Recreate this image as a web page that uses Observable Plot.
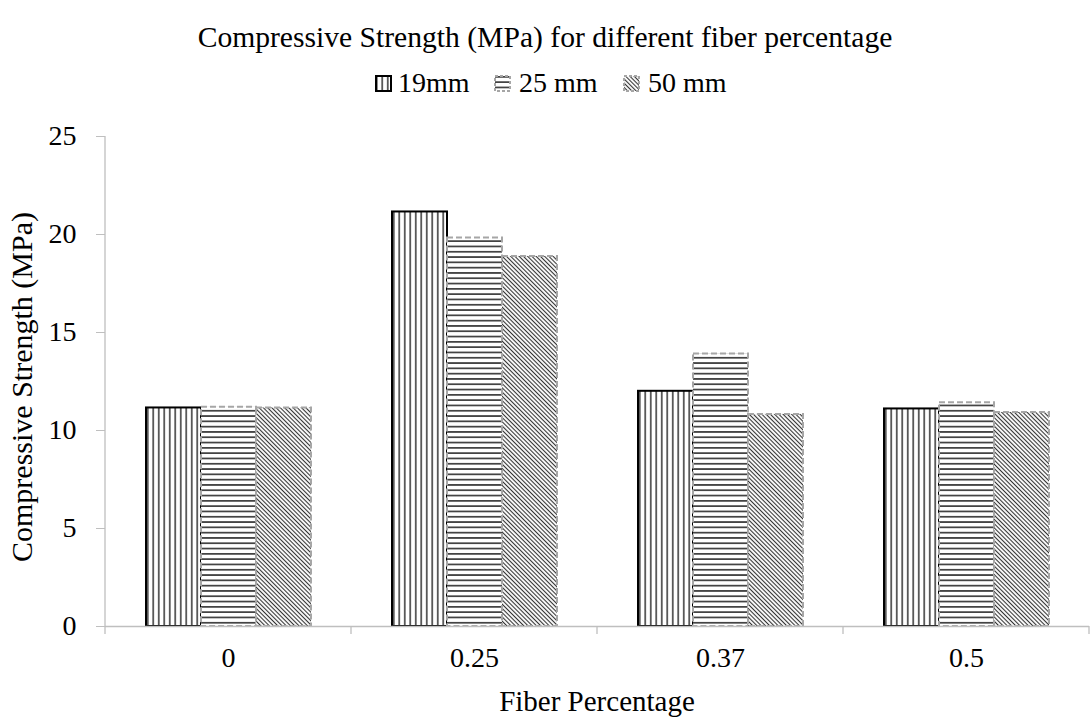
<!DOCTYPE html>
<html><head><meta charset="utf-8">
<script src="https://cdn.jsdelivr.net/npm/d3@7"></script>
<script src="https://cdn.jsdelivr.net/npm/@observablehq/plot@0.6"></script>
<style>body{margin:0;background:#fff;} svg{display:block}</style>
</head><body><div id="chart"></div>
<script>
// ---- data ----
const fibers = ["0", "0.25", "0.37", "0.5"];
const sizes = ["19mm", "25 mm", "50 mm"];
const strength19 = [11.15, 21.15, 12.0, 11.1];
const strength25 = [11.18, 19.82, 13.9, 11.42];
const strength50 = [11.15, 18.88, 10.82, 10.92];
const yTicks = [0, 5, 10, 15, 20, 25];
const title = "Compressive Strength (MPa) for different fiber percentage";
const xTitle = "Fiber Percentage";
const yTitle = "Compressive Strength (MPa)";

const seriesValues = [strength19, strength25, strength50];
const rows = fibers.flatMap((f, i) => sizes.map((s, j) => ({fiber: f, size: s, value: seriesValues[j][i]})));
const patternIds = ["p19", "p25", "p50"];
const strokes = ["#000", "#a6a6a6", "#a6a6a6"];
const dashes = [undefined, "6,3", "6,3"];
const FONT = "'Liberation Serif', 'Times New Roman', serif";

const chart = Plot.plot({
  width: 1090, height: 717,
  marginTop: 136, marginBottom: 91, marginLeft: 103, marginRight: 0,
  style: {fontFamily: FONT, fontSize: "28px", color: "#000", background: "#fff"},
  fx: {domain: fibers, padding: 0, axis: null},
  x: {domain: sizes, paddingInner: 0, paddingOuter: 0.723, axis: null},
  y: {domain: [0, 25], axis: null},
  marks: [
    ...sizes.map((s, j) => Plot.barY(rows.filter(d => d.size === s), {
      fx: "fiber", x: "size", y: "value",
      fill: `url(#${patternIds[j]})`,
      stroke: strokes[j], strokeWidth: 2,
      ...(dashes[j] ? {strokeDasharray: dashes[j]} : {})
    })),
    Plot.ruleY([0], {stroke: "#bfbfbf", strokeWidth: 1.3}),
    Plot.axisY({ticks: yTicks, tickSize: 9, tickPadding: 20, stroke: "#bfbfbf", label: null, tickFormat: d => String(d)}),
    Plot.axisFx({anchor: "bottom", tickSize: 0, tickPadding: 21, label: null})
  ]
});
document.getElementById("chart").appendChild(chart);

const svg = d3.select(chart);
const defs = svg.insert("defs", ":first-child");
function pat(id, w, h, transform) {
  const p = defs.append("pattern").attr("id", id).attr("patternUnits", "userSpaceOnUse")
    .attr("width", w).attr("height", h);
  if (transform) p.attr("patternTransform", transform);
  p.append("rect").attr("width", w).attr("height", h).attr("fill", "#fff");
  return p;
}
pat("p19", 5.5, 10).append("line").attr("x1", 2.75).attr("x2", 2.75).attr("y1", 0).attr("y2", 10)
  .attr("stroke", "#000").attr("stroke-width", 1.2);
pat("p25", 10, 5.3).append("line").attr("x1", 0).attr("x2", 10).attr("y1", 2.65).attr("y2", 2.65)
  .attr("stroke", "#222").attr("stroke-width", 1.5);
pat("p50", 3, 10, "rotate(-45)").append("line").attr("x1", 1.5).attr("x2", 1.5).attr("y1", 0).attr("y2", 10)
  .attr("stroke", "#333").attr("stroke-width", 1.1);

// axis decorations from the library's scales
const fx = chart.scale("fx"), y = chart.scale("y");
const x0 = fx.apply(fibers[0]);
const yTop = y.apply(25), yBase = y.apply(0);
svg.append("line").attr("x1", x0).attr("x2", x0).attr("y1", yTop).attr("y2", yBase)
  .attr("stroke", "#bfbfbf").attr("stroke-width", 1.3);
const bounds = fibers.map(f => fx.apply(f)).concat([fx.apply(fibers[fibers.length - 1]) + fx.bandwidth]);
bounds.forEach(b => svg.append("line").attr("x1", b).attr("x2", b).attr("y1", yBase).attr("y2", yBase + 8)
  .attr("stroke", "#bfbfbf").attr("stroke-width", 1.3));

// titles
svg.append("text").attr("x", 545).attr("y", 47).attr("text-anchor", "middle").attr("fill", "#000")
  .style("font-size", "29.6px").text(title);
svg.append("text").attr("x", (x0 + bounds[bounds.length - 1]) / 2).attr("y", 711).attr("text-anchor", "middle").attr("fill", "#000")
  .style("font-size", "29px").text(xTitle);
svg.append("text").attr("transform", "translate(32,387) rotate(-90)").attr("text-anchor", "middle").attr("fill", "#000")
  .style("font-size", "30px").text(yTitle);

// legend
const legendIcon = [376, 495, 624];
const legendText = [398, 519, 648];
sizes.forEach((s, j) => {
  svg.append("rect").attr("x", legendIcon[j]).attr("y", 76).attr("width", 15).attr("height", 15)
    .attr("fill", `url(#${patternIds[j]})`).attr("stroke", strokes[j]).attr("stroke-width", 2)
    .attr("stroke-dasharray", dashes[j] ? "3,2" : null);
  svg.append("text").attr("x", legendText[j]).attr("y", 92).attr("text-anchor", "start").attr("fill", "#000")
    .style("font-size", "28px").text(s);
});
</script></body></html>
